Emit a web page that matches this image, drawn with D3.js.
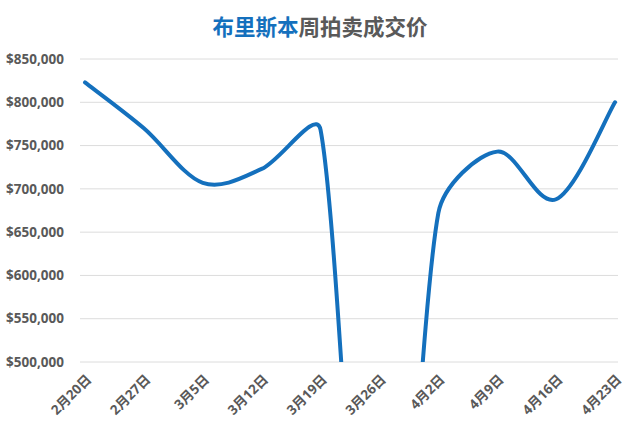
<!DOCTYPE html>
<html><head><meta charset="utf-8">
<script src="https://cdn.jsdelivr.net/npm/d3@7/dist/d3.min.js"></script>
<style>body{margin:0;background:#fff}</style>
</head><body>
<svg id="c" width="640" height="428"></svg>
<script>
const categories = ["2月20日","2月27日","3月5日","3月12日","3月19日","3月26日","4月2日","4月9日","4月16日","4月23日"];
const prices = [823000, 770000, 707000, 723000, 768000, 0, 672000, 743000, 688000, 800000];
const yTicks = [500000,550000,600000,650000,700000,750000,800000,850000];
const titleParts = [{t:"布里斯本", c:"#1470bd"}, {t:"周拍卖成交价", c:"#595959"}];

const svg = d3.select("#c");
const font = "'Open Sans','Noto Sans CJK SC',sans-serif";
const x = d3.scalePoint().domain(categories).range([85, 615]);
const y = d3.scaleLinear().domain([500000, 850000]).range([362, 59]);

// title
const title = svg.append("text").attr("x", 320).attr("y", 35).attr("text-anchor","middle")
  .attr("font-family","'Noto Sans CJK SC',sans-serif").attr("font-weight","bold").attr("font-size",21.5);
titleParts.forEach(p => title.append("tspan").attr("fill", p.c).text(p.t));

// grid
svg.append("g").selectAll("line").data(yTicks).join("line")
  .attr("x1", 80).attr("x2", 618).attr("y1", d=>y(d)).attr("y2", d=>y(d))
  .attr("stroke","#dcdcdc").attr("stroke-width",1);

// y labels
svg.append("g").selectAll("text").data(yTicks).join("text")
  .attr("x", 64).attr("y", d=>y(d)).attr("dy","0.35em").attr("text-anchor","end")
  .attr("font-family",font).attr("font-weight","bold").attr("font-size",13.5).attr("fill","#595959")
  .text(d => "$" + d3.format(",")(d));

// x labels
svg.append("g").selectAll("text").data(categories).join("text")
  .attr("transform", d => `translate(${x(d)+4},377) rotate(-45)`)
  .attr("text-anchor","end").attr("dy","0.35em")
  .attr("font-family",font).attr("font-weight","bold").attr("font-size",13.5).attr("fill","#595959")
  .text(d=>d);

// clip
svg.append("defs").append("clipPath").attr("id","clip").append("rect")
  .attr("x",0).attr("y",0).attr("width",640).attr("height",362);

// Excel-style smoothing: tangent (p[i+1]-p[i-1])/6, each side capped relative to the adjacent segment
const pts = prices.map((v,i) => [x(categories[i]), y(v)]);
const dist = (a,b) => Math.hypot(b[0]-a[0], b[1]-a[1]);
function ctrl(i, side) {
  const p = pts[i], prev = pts[Math.max(0,i-1)], next = pts[Math.min(pts.length-1,i+1)];
  let tx = (next[0]-prev[0])/6, ty = (next[1]-prev[1])/6;
  const len = Math.hypot(tx,ty);
  const seg = side > 0 ? dist(p, next) : dist(prev, p);
  const cap = seg/3;
  if (len > cap && len > 0) { tx *= cap/len; ty *= cap/len; }
  return [p[0] + side*tx, p[1] + side*ty];
}
const path = d3.path();
path.moveTo(pts[0][0], pts[0][1]);
for (let i = 0; i < pts.length-1; i++) {
  const c1 = ctrl(i, 1), c2 = ctrl(i+1, -1);
  path.bezierCurveTo(c1[0], c1[1], c2[0], c2[1], pts[i+1][0], pts[i+1][1]);
}
svg.append("path").attr("clip-path","url(#clip)")
  .attr("d", path.toString()).attr("fill","none").attr("stroke","#1470bd").attr("stroke-width",4)
  .attr("stroke-linecap","round").attr("stroke-linejoin","round");
</script>
</body></html>
